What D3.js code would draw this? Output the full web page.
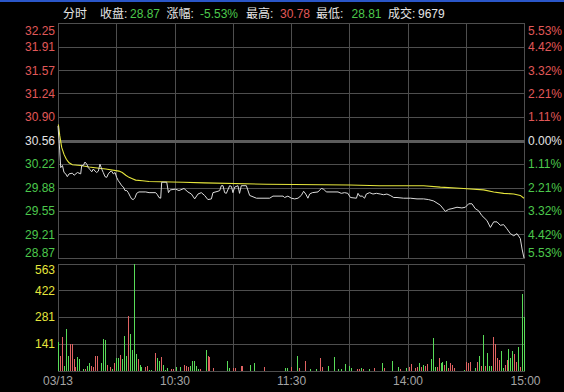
<!DOCTYPE html>
<html><head><meta charset="utf-8">
<script src="https://cdn.jsdelivr.net/npm/d3@7"></script>
<style>html,body{margin:0;padding:0;background:#000;}svg{display:block;}</style>
</head><body><svg id="c" width="564" height="392"></svg>
<script>
// ---------- data ----------
const priceTicks = [32.25, 31.91, 31.57, 31.24, 30.90, 30.56, 30.22, 29.88, 29.55, 29.21, 28.87];
const pctTicks = ["5.53%","4.42%","3.32%","2.21%","1.11%","0.00%","1.11%","2.21%","3.32%","4.42%","5.53%"];
const volTicks = [563, 422, 281, 141];
const gridMinutes = [0, 30, 60, 90, 120, 150, 180, 210, 240];
const timeLabels = ["03/13", "10:30", "11:30", "14:00", "15:00"];
const timeLabelMinutes = [0, 60, 120, 180, 240];
const prevClose = 30.56;

const priceMin = [0,0.9,1.4,2.3,3.1,4.0,4.8,5.7,7.4,8.3,10.0,11.7,12.2,13.0,13.9,14.8,15.6,16.5,17.4,18.2,19.1,19.9,20.8,21.6,22.5,23.3,24.2,25.1,25.9,26.8,27.6,28.5,29.4,30.2,31.1,31.9,32.8,33.7,34.5,35.4,36.2,37.1,37.9,38.8,39.7,40.5,41.7,45.2,46.9,50.3,51.2,52.0,52.9,53.4,56.0,56.9,57.8,60.6,62.3,64.9,66.9,68.7,70.4,72.1,73.8,75.5,77.2,79.0,79.8,82.4,83.3,84.1,85.0,85.8,86.7,88.4,89.3,90.1,91.0,92.7,93.5,94.4,97.0,98.7,102.2,109.0,110.7,115.9,116.7,118.4,120.2,121.9,123.6,125.3,126.5,127.6,128.7,129.6,131.0,133.9,135.6,136.8,138.2,144.2,145.9,147.6,149.3,150.6,153.7,154.5,155.4,156.7,157.9,158.8,160.5,162.2,164.0,166.0,167.7,169.4,171.1,172.9,174.6,178.0,181.5,184.9,188.3,190.9,193.5,196.9,199.5,201.2,202.9,205.5,208.0,209.8,211.5,213.2,214.9,216.6,218.3,220.9,222.7,224.4,226.1,227.8,229.5,231.2,233.0,234.7,236.4,238.1,239.0,240.0];
const priceVal = [30.77,30.41,30.17,30.20,30.10,30.08,30.04,30.08,30.09,30.06,30.10,30.08,30.20,30.20,30.25,30.22,30.17,30.14,30.11,30.15,30.12,30.10,30.12,30.22,30.15,30.10,30.04,30.03,30.08,30.11,30.12,30.08,30.10,30.03,29.98,29.95,29.91,29.89,29.84,29.84,29.81,29.76,29.72,29.71,29.74,29.80,29.82,29.82,29.81,29.81,29.78,29.74,29.73,29.96,29.96,29.81,29.85,29.86,29.84,29.87,29.82,29.79,29.72,29.79,29.81,29.77,29.71,29.72,29.81,29.83,29.84,29.91,29.91,29.81,29.80,29.91,29.90,29.81,29.89,29.91,29.80,29.91,29.91,29.77,29.73,29.73,29.76,29.76,29.74,29.76,29.73,29.72,29.73,29.77,29.83,29.79,29.73,29.79,29.81,29.82,29.87,29.86,29.82,29.82,29.80,29.81,29.80,29.74,29.73,29.80,29.76,29.76,29.73,29.79,29.81,29.79,29.80,29.79,29.78,29.79,29.77,29.74,29.74,29.73,29.73,29.72,29.72,29.71,29.69,29.63,29.54,29.57,29.58,29.60,29.59,29.60,29.65,29.65,29.58,29.55,29.48,29.41,29.31,29.39,29.39,29.34,29.35,29.29,29.22,29.19,29.22,29.15,29.00,28.87];

const avgMin = [0.2,0.9,1.9,3.1,4.3,5.7,7.4,11.7,16.0,21.1,24.6,31.4,33.1,34.9,36.6,38.3,40.0,43.5,46.9,64.4,75.5,107.3,150.2,165.7,188.3,196.9,208.9,219.2,224.4,229.5,234.7,238.1,240.0];
const avgVal = [30.79,30.63,30.46,30.36,30.29,30.24,30.21,30.20,30.18,30.16,30.15,30.12,30.10,30.06,30.03,30.01,29.99,29.98,29.97,29.96,29.95,29.93,29.92,29.91,29.91,29.89,29.87,29.85,29.82,29.80,29.79,29.77,29.73];

// per-minute volume (index = minutes after open), and tick direction r=up g=down
const volumes = [
149,75,177,23,216,75,142,142,58,16,
72,58,0,10,10,26,40,23,20,75,
78,0,37,168,161,31,0,16,10,37,
66,66,84,58,184,75,289,190,107,563,
88,61,31,19,0,16,26,5,5,0,
93,65,49,72,31,5,14,0,10,10,
0,19,0,20,0,31,23,19,26,49,
52,26,9,9,0,0,107,75,72,0,
14,0,0,0,0,0,0,49,14,0,
14,14,0,0,23,26,0,0,0,31,
0,37,0,0,0,0,17,0,0,0,
0,0,0,0,0,0,0,14,14,0,
19,0,0,75,14,0,0,49,0,0,
9,0,0,9,0,65,19,0,0,23,
0,0,70,0,9,0,9,0,33,0,
23,14,0,0,9,9,14,9,0,0,
9,0,0,13,0,0,0,42,13,0,
0,0,51,0,0,21,7,0,0,14,
0,21,34,0,13,18,42,21,30,25,
35,0,62,170,21,21,65,39,46,30,
51,13,39,30,13,0,0,0,0,4,
47,39,47,0,0,13,47,74,25,188,
25,91,25,25,176,139,65,53,100,13,
30,53,113,65,100,88,47,126,21,403,
284];
const volDir = (
"grrgggrrrr"+"ggggrggrrr"+"rggggrgrgr"+"ggrgggrggg"+"grgggrrggg"+
"rggrggggrr"+"gggggrrrgg"+"gggrgggrrg"+"rggggggggg"+"rrggrrgggg"+
"ggggggrggg"+"gggggggggg"+"rgggrggrgg"+"gggggrrggg"+"gggggggggg"+
"ggggrrgrgg"+"gggrggggrg"+"ggggggrggg"+"grrgrrgrgr"+"rggggrrggr"+
"grrrrggggg"+"rrrgggrgrg"+"rgggrrrrgg"+"rrgggrrgrg"+"g").split("");

const header = [
  {t:"分时", x:63, c:"w"}, {t:"收盘:", x:100, c:"w"}, {t:"28.87", x:130, c:"g"},
  {t:"涨幅:", x:166.5, c:"w"}, {t:"-5.53%", x:200, c:"g"},
  {t:"最高:", x:246, c:"w"}, {t:"30.78", x:280, c:"r"},
  {t:"最低:", x:316, c:"w"}, {t:"28.81", x:351.5, c:"g"},
  {t:"成交:", x:388, c:"w"}, {t:"9679", x:418, c:"w"}
];

// ---------- style ----------
const COL = {w:"#e4e4e4", g:"#4cc84c", r:"#e05858", grid:"#4e4e4e", yellow:"#e6e63c", time:"#a4a4a4"};
const L = 58, R = 524, pTop = 23, pBot = 258, vTop = 263.5, vBot = 370.5;
const FONT = "'Liberation Sans', Arial, 'Noto Sans CJK SC', sans-serif";

const svg = d3.select("#c");
svg.append("rect").attr("width",564).attr("height",392).attr("fill","#000");
svg.append("rect").attr("x",0).attr("y",0).attr("width",564).attr("height",2).attr("fill","#2a56c8");

const x = d3.scaleLinear().domain([0,240]).range([L, R]);
const yP = d3.scaleLinear().domain([28.87, 32.25]).range([pBot, pTop]);
const yV = d3.scaleLinear().domain([0, 563]).range([vBot, vTop]);
const px = v => Math.round(v) + 0.5;

const grid = svg.append("g").attr("stroke", COL.grid).attr("stroke-width",1).attr("fill","none");
// horizontal price grid
priceTicks.forEach(t => {
  if (t === prevClose) return;
  grid.append("line").attr("x1",L).attr("x2",R+1).attr("y1",px(yP(t))).attr("y2",px(yP(t)));
});
// volume grid
[0].concat(volTicks).forEach(t => {
  grid.append("line").attr("x1",L).attr("x2",R+1).attr("y1",px(yV(t))).attr("y2",px(yV(t)));
});
// vertical grid
gridMinutes.forEach(m => {
  grid.append("line").attr("x1",px(x(m))).attr("x2",px(x(m))).attr("y1",px(yP(32.25))).attr("y2",px(yP(28.87)));
  grid.append("line").attr("x1",px(x(m))).attr("x2",px(x(m))).attr("y1",px(yV(563))).attr("y2",px(yV(0)));
});
// prev close thick line
svg.append("line").attr("x1",L).attr("x2",R+1).attr("y1",Math.round(yP(prevClose))+0.5).attr("y2",Math.round(yP(prevClose))+0.5)
  .attr("stroke","#5c5c5c").attr("stroke-width",3);

// volume bars
svg.append("g").selectAll("rect").data(volumes).join("rect")
  .attr("x",(d,i)=>Math.round(x(i)))
  .attr("y",d=>Math.round(yV(d)))
  .attr("width",1)
  .attr("height",d=>Math.max(0, Math.round(yV(0)) - Math.round(yV(d))))
  .attr("fill",(d,i)=> volDir[i]==="r" ? "#e06262" : "#58dc58");

// lines
const priceData = priceMin.map((m,i)=>[m, priceVal[i]]);
const avgData = avgMin.map((m,i)=>[m, avgVal[i]]);
const line = d3.line().x(d=>x(d[0])).y(d=>yP(d[1]));
svg.append("path").attr("d", line(avgData)).attr("fill","none").attr("stroke",COL.yellow).attr("stroke-width",1.1);
svg.append("path").attr("d", line(priceData)).attr("fill","none").attr("stroke","#dcdcdc").attr("stroke-width",1);

// left price labels
const clampP = y => Math.max(pTop + 7.7, Math.min(pBot - 5.3, y));
svg.append("g").selectAll("text").data(priceTicks).join("text")
  .attr("x",55).attr("y",d=>clampP(yP(d))).attr("dy","0.36em")
  .attr("text-anchor","end").attr("font-family",FONT).attr("font-size",12)
  .attr("fill",d=> d>prevClose ? COL.r : d<prevClose ? COL.g : COL.w)
  .text(d=>d.toFixed(2));
// right pct labels
svg.append("g").selectAll("text").data(pctTicks).join("text")
  .attr("x",528).attr("y",(d,i)=>clampP(yP(priceTicks[i]))).attr("dy","0.36em")
  .attr("text-anchor","start").attr("font-family",FONT).attr("font-size",12)
  .attr("fill",(d,i)=> i<5 ? COL.r : i>5 ? COL.g : COL.w)
  .text(d=>d);
// volume labels
svg.append("g").selectAll("text").data(volTicks).join("text")
  .attr("x",55).attr("y",d=>Math.max(vTop+5.8, yV(d))).attr("dy","0.36em")
  .attr("text-anchor","end").attr("font-family",FONT).attr("font-size",12)
  .attr("fill",COL.yellow).text(d=>d);
// time labels
svg.append("g").selectAll("text").data(timeLabels).join("text")
  .attr("x",(d,i)=>x(timeLabelMinutes[i])+ (i===0?0:(i===4?1.5:0.5))).attr("y",381).attr("dy","0.36em")
  .attr("text-anchor","middle").attr("font-family",FONT).attr("font-size",12)
  .attr("fill",COL.time).text(d=>d);
// header
svg.append("g").selectAll("text").data(header).join("text")
  .attr("x",d=>d.x).attr("y",18).attr("font-family",FONT).attr("font-size",12)
  .attr("fill",d=>COL[d.c]).text(d=>d.t);
</script></body></html>
